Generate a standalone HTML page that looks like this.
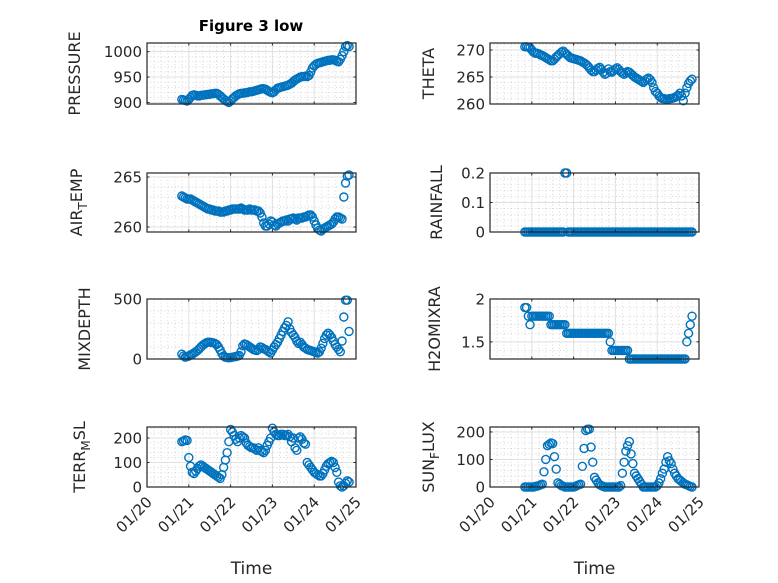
<!DOCTYPE html>
<html><head><meta charset="utf-8"><style>
html,body{margin:0;padding:0;background:#fff;}
svg{display:block;font-family:"DejaVu Sans","Liberation Sans",sans-serif;}
</style></head><body>
<svg id="fig" width="778" height="583" viewBox="0 0 778 583">
<rect width="778" height="583" fill="#fff"/>
<text x="251" y="31" text-anchor="middle" font-size="15" font-weight="bold" fill="#000">Figure 3 low</text>
</svg>
<script>
const hours = [20,21,22,23,24,25,26,27,28,29,30,31,32,33,34,35,36,37,38,39,40,41,42,43,44,45,46,47,48,49,50,51,52,53,54,55,56,57,58,59,60,61,62,63,64,65,66,67,68,69,70,71,72,73,74,75,76,77,78,79,80,81,82,83,84,85,86,87,88,89,90,91,92,93,94,95,96,97,98,99,100,101,102,103,104,105,106,107,108,109,110,111,112,113,114,115,116];
const xTickLabels = ["01/20","01/21","01/22","01/23","01/24","01/25"];
const pressure = [906,905,904,903, 906,910,914,915,914, 913,913,914,914,915,915,916,916,917,917,918,918, 916,913,910,907,904,902,900, 903,907,910,913,915,917,918,918, 919,919,920,921,921,922,923,924,925,926,927,927, 926,924,922,920,919,921,925,928, 929,930,931,932,933,934,936,938,941,944,946,948, 950,951,951,952,951,953,960,968, 972,975,977,978,979,980,981,982,983,983,984,984,983,981,980,985, 992,1000,1010,1012,1010];
const theta = [270.6,270.6,270.5,270.4, 270.0,269.6,269.4,269.4,269.3, 269.1,269.0,268.8,268.6,268.4,268.2,268.0,268.0,268.3,268.7,269.0,269.3, 269.6,269.8,269.5,269.2,268.9,268.6,268.5, 268.4,268.3,268.2,268.1,268.0,267.8,267.6,267.4, 267.1,266.7,266.3,266.0,266.0,266.3,266.6,266.8,266.4,265.9,265.5,265.7, 266.5,266.0,265.9,266.2,266.5,266.7,266.4,266.0, 265.7,265.5,265.8,266.0,265.9,265.6,265.3,265.0,264.8,264.6,264.4,264.2, 264.0,264.3,264.6,264.8,264.5,264.0,263.0,262.3, 262.0,261.5,261.2,261.0,261.0,260.9,260.9,261.0,261.0,261.1,261.2,261.4,261.6,262.0,261.5,260.6, 262.0,263.0,263.8,264.3,264.6];
const airTemp = [263.1,263.0,262.9,262.8, 262.8,262.8,262.7,262.6,262.5, 262.4,262.3,262.2,262.1,262.0,261.9,261.8,261.8,261.7,261.7,261.6,261.6, 261.6,261.5,261.5,261.5,261.6,261.6,261.7, 261.7,261.8,261.8,261.8,261.8,261.8,261.9,261.8, 261.7,261.7,261.7,261.8,261.7,261.7,261.7,261.6,261.6,261.4,261.0,260.4, 260.1,260.1,260.3,260.6,260.5,260.2,260.1,260.3, 260.4,260.5,260.6,260.6,260.7,260.6,260.8,260.8,260.9,260.8,260.7,260.9, 260.9,260.9,261.0,261.0,261.1,261.2,261.2,261.0, 260.6,260.2,259.9,259.7,259.6,259.8,259.9,260.0,260.1,260.2,260.3,260.5,260.8,261.0,261.0,260.9, 260.8,263.0,264.4,265.1,265.2];
const rainfall = [0,0,0,0,0,0,0,0,0,0,0,0,0,0,0,0,0,0,0,0,0,0,0,0.2,0.2,0,0,0,0,0,0,0,0,0,0,0,0,0,0,0,0,0,0,0,0,0,0,0,0,0,0,0,0,0,0,0,0,0,0,0,0,0,0,0,0,0,0,0,0,0,0,0,0,0,0,0,0,0,0,0,0,0,0,0,0,0,0,0,0,0,0,0,0,0,0,0,0];
const mixDepth = [40,25,15,20, 25,35,40,50,60, 70,85,100,115,125,135,140,140,138,135,130,120, 100,75,45,25,15,12,10, 12,15,18,20,25,30,60,110, 125,120,110,100,90,80,75,70,80,100,95,85, 80,70,60,50,75,100,120,140, 170,200,230,260,280,310,250,220,200,180,150,130, 140,120,100,90,80,75,70,65, 60,55,50,60,90,130,170,200,215,200,180,150,120,100,80,60, 150,350,490,490,230];
const h2oMix = [1.9,1.9,1.8,1.7, 1.8,1.8,1.8,1.8,1.8, 1.8,1.8,1.8,1.8,1.8,1.8,1.7,1.7,1.7,1.7,1.7,1.7, 1.7,1.7,1.7,1.6,1.6,1.6,1.6, 1.6,1.6,1.6,1.6,1.6,1.6,1.6,1.6, 1.6,1.6,1.6,1.6,1.6,1.6,1.6,1.6,1.6,1.6,1.6,1.6, 1.6,1.5,1.4,1.4,1.4,1.4,1.4,1.4, 1.4,1.4,1.4,1.4,1.3,1.3,1.3,1.3,1.3,1.3,1.3,1.3, 1.3,1.3,1.3,1.3,1.3,1.3,1.3,1.3, 1.3,1.3,1.3,1.3,1.3,1.3,1.3,1.3,1.3,1.3,1.3,1.3,1.3,1.3,1.3,1.3, 1.3,1.5,1.6,1.7,1.8];
const terrMsl = [185,188,192,190, 120,85,60,55,65, 75,85,90,85,80,75,70,65,60,55,50,45, 40,35,50,80,110,140,185, 235,225,210,195,185,200,210,205, 200,180,170,165,160,160,155,150,160,150,145,140, 150,170,185,200,240,225,215,210, 210,215,215,210,210,215,205,185,200,160,150,200, 205,195,180,175,100,90,80,70, 60,55,50,45,45,55,70,85,95,100,105,100,80,60,20,5, 0,5,15,25,20];
const sunFlux = [0,0,0,0,0,0,2,3,5, 8,10,55,100,150,155,160,158,110,65,15,10, 5,3,0,0,0,0,0, 0,2,5,8,10,75,140,205, 210,210,145,90,35,25,15,8,5,2,0,0, 0,0,0,0,0,0,0,5, 50,90,130,150,165,120,85,50,40,30,20,10, 0,0,0,0,0,0,0,0, 5,15,30,50,65,90,110,95,85,65,50,40,30,25,20,15, 10,8,5,2,0];

const panels = [
 {name:'pressure', label:['PRESSURE'], data:pressure, x0:147,x1:356,y0:43,y1:104, ymin:897, ymax:1017, ticks:[900,950,1000], minor:10, lx:80},
 {name:'theta', label:['THETA'], data:theta, x0:490,x1:699,y0:43,y1:104, ymin:260, ymax:271.3, ticks:[260,265,270], minor:1, lx:434},
 {name:'air-temp', label:['AIR','T','EMP'], data:airTemp, x0:147,x1:356,y0:173,y1:232, ymin:259.5, ymax:265.4, ticks:[260,265], minor:1, lx:82},
 {name:'rainfall', label:['RAINFALL'], data:rainfall, x0:490,x1:699,y0:173,y1:232, ymin:0, ymax:0.2, ticks:[0,0.1,0.2], minor:0.02, lx:442},
 {name:'mixdepth', label:['MIXDEPTH'], data:mixDepth, x0:147,x1:356,y0:299,y1:359, ymin:0, ymax:500, ticks:[0,500], minor:100, lx:90},
 {name:'h2omixra', label:['H2OMIXRA'], data:h2oMix, x0:490,x1:699,y0:299,y1:359, ymin:1.3, ymax:2, ticks:[1.5,2], minor:0.1, lx:440},
 {name:'terr-msl', label:['TERR','M','SL'], data:terrMsl, x0:147,x1:356,y0:427,y1:487, ymin:0, ymax:245, ticks:[0,100,200], minor:20, lx:85, xlab:true},
 {name:'sun-flux', label:['SUN','F','LUX'], data:sunFlux, x0:490,x1:699,y0:427,y1:487, ymin:0, ymax:218, ticks:[0,100,200], minor:20, lx:434, xlab:true}
];
const NS='http://www.w3.org/2000/svg';
const svg=document.getElementById('fig');
function mk(tag,attrs,parent){const e=document.createElementNS(NS,tag);for(const k in attrs)e.setAttribute(k,attrs[k]);(parent||svg).appendChild(e);return e;}
panels.forEach(p=>{
  const g=mk('g',{});
  
  
  const xs=h=>p.x0+(h/24)/5*(p.x1-p.x0);
  const ys=v=>p.y1-(v-p.ymin)/(p.ymax-p.ymin)*(p.y1-p.y0);
  for(let d=0; d<=5*6; d++){ if(d%6===0) continue; const x=p.x0+d/30*(p.x1-p.x0);
    mk('line',{x1:x,x2:x,y1:p.y0,y2:p.y1,stroke:'#c8c8c8','stroke-width':0.7,'stroke-dasharray':'1,2.5'},g);}
  const m0=Math.ceil(p.ymin/p.minor-1e-6);
  for(let k=m0; k*p.minor<=p.ymax+1e-9; k++){const v=k*p.minor; const y=ys(v);
    mk('line',{x1:p.x0,x2:p.x1,y1:y,y2:y,stroke:'#c8c8c8','stroke-width':0.7,'stroke-dasharray':'1,2.5'},g);}
  for(let d=1; d<5; d++){const x=xs(d*24); mk('line',{x1:x,x2:x,y1:p.y0,y2:p.y1,stroke:'#e0e0e0','stroke-width':1},g);}
  p.ticks.forEach(v=>{const y=ys(v); mk('line',{x1:p.x0,x2:p.x1,y1:y,y2:y,stroke:'#e0e0e0','stroke-width':1},g);});
  p.data.forEach((v,i)=>{
    const c=mk('circle',{cx:xs(hours[i]),cy:ys(v),r:4,fill:'none',stroke:'#0072BD','stroke-width':1.4},g);
    
    
  });
  mk('rect',{x:p.x0,y:p.y0,width:p.x1-p.x0,height:p.y1-p.y0,fill:'none',stroke:'#262626','stroke-width':1.2},g);
  for(let d=0; d<=5; d++){const x=xs(d*24);
    mk('line',{x1:x,x2:x,y1:p.y1,y2:p.y1-2.5,stroke:'#262626','stroke-width':1},g);
    mk('line',{x1:x,x2:x,y1:p.y0,y2:p.y0+2.5,stroke:'#262626','stroke-width':1},g);
    if(p.xlab){const ax=x+6, ay=p.y1+16;
      const t=mk('text',{x:ax,y:ay,'text-anchor':'end','font-size':15,fill:'#262626',transform:`rotate(-45 ${ax} ${ay})`},g);
      t.textContent=xTickLabels[d];
      
      }
  }
  p.ticks.forEach(v=>{const y=ys(v);
    mk('line',{x1:p.x0,x2:p.x0+2.5,y1:y,y2:y,stroke:'#262626','stroke-width':1},g);
    mk('line',{x1:p.x1,x2:p.x1-2.5,y1:y,y2:y,stroke:'#262626','stroke-width':1},g);
    const t=mk('text',{x:p.x0-5,y:y+5.5,'text-anchor':'end','font-size':15,fill:'#262626'},g);
    t.textContent=String(v);
    
    
  });
  const cy=(p.y0+p.y1)/2;
  const t=mk('text',{x:p.lx,y:cy,'text-anchor':'middle','font-size':16,fill:'#262626',transform:`rotate(-90 ${p.lx} ${cy})`},g);
  
  
  if(p.label.length===1){t.textContent=p.label[0];}
  else{const a=mk('tspan',{},t);a.textContent=p.label[0];
    const b=mk('tspan',{'font-size':12,dy:5},t);b.textContent=p.label[1];
    const c=mk('tspan',{dy:-5},t);c.textContent=p.label[2];}
  if(p.xlab){const tl=mk('text',{x:(p.x0+p.x1)/2,y:574,'text-anchor':'middle','font-size':17,fill:'#262626'},g);
    tl.textContent='Time';
    
    }
});
</script>
</body></html>
